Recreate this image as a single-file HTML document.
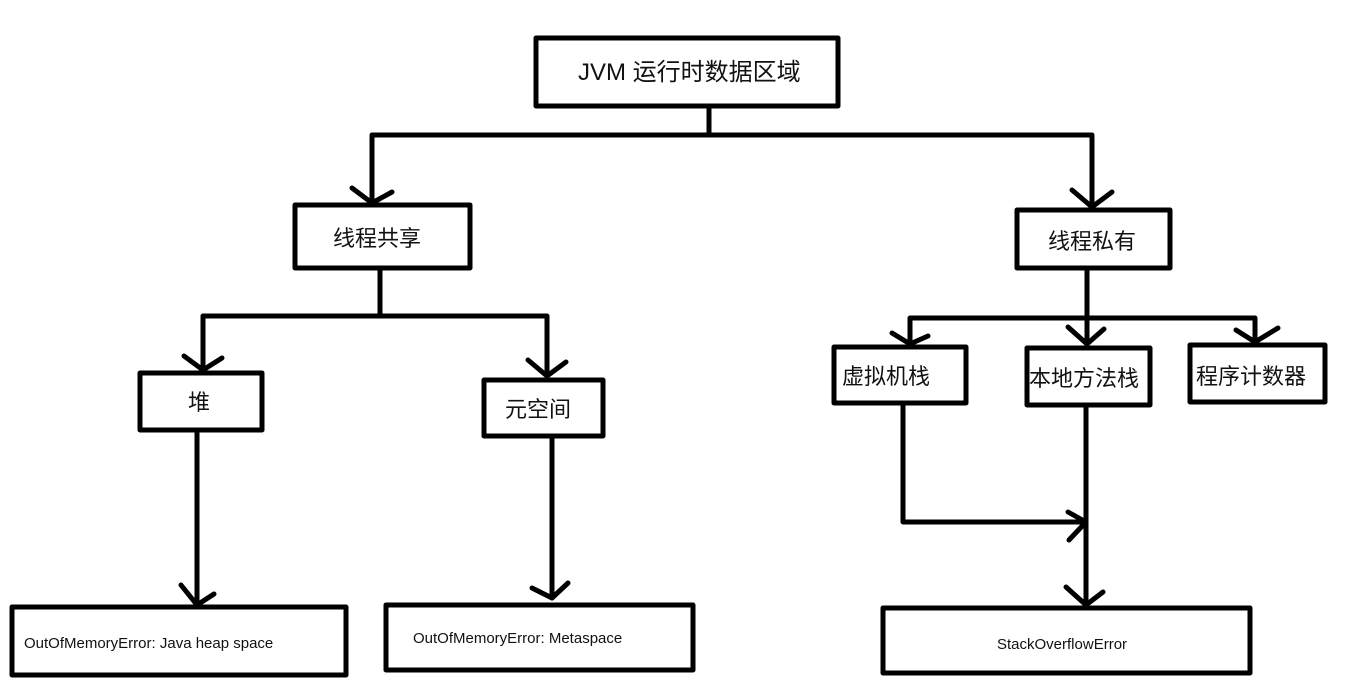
<!DOCTYPE html>
<html><head><meta charset="utf-8"><style>
html,body{margin:0;padding:0;background:#fff;}
svg{display:block}
text{font-family:"Liberation Sans","Noto Sans CJK SC",sans-serif;fill:#111}
</style></head><body>
<svg width="1361" height="691" viewBox="0 0 1361 691" xmlns="http://www.w3.org/2000/svg">
<g fill="none" stroke="#000" stroke-width="5" stroke-linecap="round" stroke-linejoin="round">
<!-- boxes -->
<rect x="536" y="38" width="302" height="68"/>
<rect x="295" y="205" width="175" height="63"/>
<rect x="1017" y="210" width="153" height="58"/>
<rect x="140" y="373" width="122" height="57"/>
<rect x="484" y="380" width="119" height="56"/>
<rect x="834" y="347" width="132" height="56"/>
<rect x="1027" y="348" width="123" height="57"/>
<rect x="1190" y="345" width="135" height="57"/>
<rect x="12" y="607" width="334" height="68"/>
<rect x="386" y="605" width="307" height="65"/>
<rect x="883" y="608" width="367" height="65"/>
<!-- connectors -->
<polyline points="709,106 709,135"/>
<polyline points="372,203 372,135 1092,135 1092,207"/>
<polyline points="352,188 372,203 392,192"/>
<polyline points="1072,190 1092,207 1112,192"/>
<polyline points="380,268 380,316"/>
<polyline points="203,370 203,316 547,316 547,376"/>
<polyline points="184,356 203,370 222,358"/>
<polyline points="528,360 547,376 566,362"/>
<polyline points="197,430 197,605"/>
<polyline points="181,585 197,605 214,594"/>
<polyline points="552,436 552,598"/>
<polyline points="532,588 552,598 568,583"/>
<polyline points="1087,268 1087,344"/>
<polyline points="910,344 910,318 1255,318 1255,342"/>
<polyline points="892,333 910,344 928,336"/>
<polyline points="1068,327 1087,344 1104,329"/>
<polyline points="1236,330 1255,342 1278,328"/>
<polyline points="903,403 903,522 1086,522"/>
<polyline points="1068,512 1086,522 1069,540"/>
<polyline points="1086,405 1086,605"/>
<polyline points="1066,587 1086,605 1103,592"/>
</g>
<text x="578" y="80" font-size="24">JVM 运行时数据区域</text>
<text x="333" y="246" font-size="22">线程共享</text>
<text x="1048" y="249" font-size="22">线程私有</text>
<text x="188" y="410" font-size="22">堆</text>
<text x="505" y="417" font-size="22">元空间</text>
<text x="842" y="384" font-size="22">虚拟机栈</text>
<text x="1029" y="386" font-size="22">本地方法栈</text>
<text x="1196" y="384" font-size="22">程序计数器</text>
<text x="24" y="648" font-size="15">OutOfMemoryError: Java heap space</text>
<text x="413" y="643" font-size="15">OutOfMemoryError: Metaspace</text>
<text x="997" y="649" font-size="15">StackOverflowError</text>
</svg>
</body></html>
